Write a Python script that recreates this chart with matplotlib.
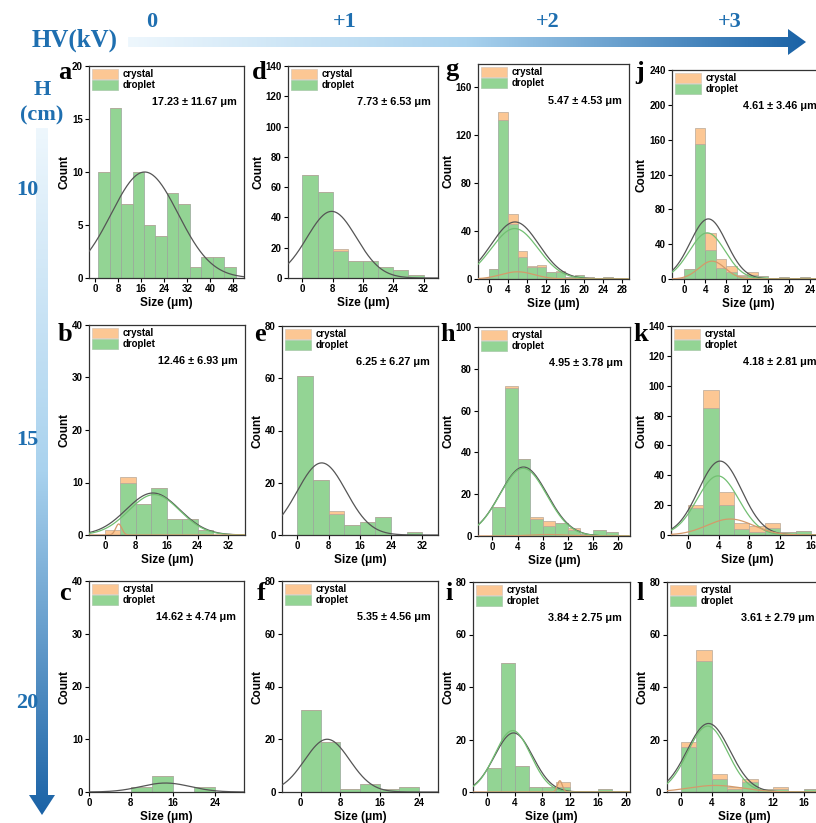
import numpy as np
import matplotlib.pyplot as plt
from matplotlib.patches import Patch, Polygon
from matplotlib.colors import LinearSegmentedColormap

plt.rcParams['font.family'] = ['Liberation Sans', 'DejaVu Sans']

##### data (bin left edges, counts, fits)
a_bins = [1, 5, 9, 13, 17, 21, 25, 29, 33, 37, 41, 45]
a_droplet = [10, 16, 7, 10, 5, 4, 8, 7, 1, 2, 2, 1]
a_crystal = [0, 0, 0, 0, 0, 0, 0, 0, 0, 0, 0, 0]
a_text = "17.23 ± 11.67 μm"
a_fits = [(17.23, 11.67, 10.0, 'total')]

b_bins = [0, 4, 8, 12, 16, 20, 24]
b_droplet = [0, 10, 6, 9, 3, 3, 1]
b_crystal = [1, 1, 0, 0, 0, 0, 0]
b_text = "12.46 ± 6.93 μm"
b_fits = [(12.46, 6.93, 8.0, 'total'), (12.8, 6.6, 7.7, 'droplet'), (3.6, 0.8, 2.1, 'crystal')]

c_bins = [8, 12, 16, 20]
c_droplet = [1, 3, 0, 1]
c_crystal = [0, 0, 0, 0]
c_text = "14.62 ± 4.74 μm"
c_fits = [(14.62, 4.74, 1.7, 'total')]

d_bins = [0, 4, 8, 12, 16, 20, 24, 28]
d_droplet = [68, 57, 18, 11, 11, 7, 5, 2]
d_crystal = [0, 0, 1, 0, 0, 0, 0, 0]
d_text = "7.73 ± 6.53 μm"
d_fits = [(7.73, 6.53, 44.0, 'total')]

e_bins = [0, 4, 8, 12, 16, 20, 24, 28]
e_droplet = [61, 21, 8, 4, 5, 7, 0, 1]
e_crystal = [0, 0, 1, 0, 0, 0, 0, 0]
e_text = "6.25 ± 6.27 μm"
e_fits = [(6.25, 6.27, 27.6, 'total')]

f_bins = [0, 4, 8, 12, 16, 20]
f_droplet = [31, 19, 1, 3, 1, 2]
f_crystal = [0, 0, 0, 0, 0, 0]
f_text = "5.35 ± 4.56 μm"
f_fits = [(5.35, 4.56, 20.0, 'total')]

g_bins = [-2, 0, 2, 4, 6, 8, 10, 12, 14, 16, 18, 20, 22, 24, 26]
g_droplet = [0, 8, 132, 46, 18, 10, 10, 6, 6, 2, 3, 2, 1, 2, 1]
g_crystal = [1, 0, 7, 8, 5, 1, 2, 0, 1, 0, 0, 0, 0, 0, 0]
g_text = "5.47 ± 4.53 μm"
g_fits = [(5.47, 5.0, 47.5, 'total'), (5.4, 4.9, 42.0, 'droplet'), (6.0, 3.5, 6.0, 'crystal')]

h_bins = [0, 2, 4, 6, 8, 10, 12, 14, 16, 18]
h_droplet = [14, 71, 37, 8, 5, 6, 3, 1, 3, 2]
h_crystal = [0, 1, 0, 1, 2, 0, 1, 0, 0, 0]
h_text = "4.95 ± 3.78 μm"
h_fits = [(4.95, 3.78, 33.0, 'total'), (4.9, 3.75, 32.4, 'droplet'), (9.0, 3.0, 0.7, 'crystal')]

i_bins = [0, 2, 4, 6, 8, 10, 12, 14, 16]
i_droplet = [9, 49, 10, 2, 2, 2, 0, 0, 1]
i_crystal = [0, 0, 0, 0, 0, 2, 0, 0, 0]
i_text = "3.84 ± 2.75 μm"
i_fits = [(3.84, 2.75, 22.5, 'total'), (3.7, 2.6, 23.4, 'droplet'), (10.5, 0.35, 4.3, 'crystal')]

j_bins = [-2, 0, 2, 4, 6, 8, 10, 12, 14, 16, 18, 20, 22]
j_droplet = [0, 11, 155, 33, 13, 8, 4, 5, 4, 1, 2, 1, 2]
j_crystal = [1, 1, 18, 20, 10, 7, 1, 3, 0, 0, 0, 0, 0]
j_text = "4.61 ± 3.46 μm"
j_fits = [(4.61, 3.46, 69.0, 'total'), (4.4, 3.4, 53.0, 'droplet'), (5.3, 2.5, 20.5, 'crystal')]

k_bins = [0, 2, 4, 6, 8, 10, 12, 14]
k_droplet = [18, 85, 20, 4, 2, 5, 2, 3]
k_crystal = [2, 12, 9, 4, 4, 3, 0, 0]
k_text = "4.18 ± 2.81 μm"
k_fits = [(4.18, 2.81, 49.5, 'total'), (3.9, 2.7, 39.6, 'droplet'), (5.5, 3.0, 10.7, 'crystal')]

l_bins = [0, 2, 4, 6, 8, 10, 12, 14, 16]
l_droplet = [17, 50, 5, 1, 4, 1, 1, 0, 1]
l_crystal = [2, 4, 2, 1, 1, 0, 1, 0, 0]
l_text = "3.61 ± 2.79 μm"
l_fits = [(3.61, 2.79, 26.1, 'total'), (3.5, 2.6, 25.1, 'droplet'), (4.5, 3.5, 2.5, 'crystal')]

hv_labels = ["0", "+1", "+2", "+3"]
h_labels = ["10", "15", "20"]

panels = {
    'a': (a_bins, 4, a_droplet, a_crystal, a_text, a_fits),
    'b': (b_bins, 4, b_droplet, b_crystal, b_text, b_fits),
    'c': (c_bins, 4, c_droplet, c_crystal, c_text, c_fits),
    'd': (d_bins, 4, d_droplet, d_crystal, d_text, d_fits),
    'e': (e_bins, 4, e_droplet, e_crystal, e_text, e_fits),
    'f': (f_bins, 4, f_droplet, f_crystal, f_text, f_fits),
    'g': (g_bins, 2, g_droplet, g_crystal, g_text, g_fits),
    'h': (h_bins, 2, h_droplet, h_crystal, h_text, h_fits),
    'i': (i_bins, 2, i_droplet, i_crystal, i_text, i_fits),
    'j': (j_bins, 2, j_droplet, j_crystal, j_text, j_fits),
    'k': (k_bins, 2, k_droplet, k_crystal, k_text, k_fits),
    'l': (l_bins, 2, l_droplet, l_crystal, l_text, l_fits),
}

##### layout in pixels: box (left, top, right, bottom), xlim, xtick step, ylim, ytick step, letter pos
W, H = 816, 823
layout = {
    'a': ((89, 66, 244, 278), (-2.2, 51.9), 8, 20, 5, (65, 79)),
    'd': ((288, 66, 438, 278), (-3.8, 35.8), 8, 140, 20, (259, 79)),
    'g': ((478, 64, 629, 279), (-2.3, 29.4), 4, 179, 40, (452, 76)),
    'j': ((672, 70, 824, 279), (-2.3, 26.6), 4, 240, 40, (640, 79)),
    'b': ((89, 325, 245, 535), (-4.1, 36.3), 8, 40, 10, (65, 341)),
    'e': ((282, 326, 438, 535), (-3.9, 36.0), 8, 80, 20, (260, 341)),
    'h': ((478, 327, 630, 536), (-2.3, 21.9), 4, 100, 20, (448, 341)),
    'k': ((671, 326, 824, 535), (-2.2, 17.7), 4, 140, 20, (641, 341)),
    'c': ((89, 581, 244, 792), (0, 29.6), 8, 40, 10, (65, 600)),
    'f': ((282, 581, 438, 792), (-3.8, 27.8), 8, 80, 20, (261, 600)),
    'i': ((473, 582, 630, 792), (-2.0, 20.6), 4, 80, 20, (449, 600)),
    'l': ((667, 582, 822, 792), (-1.8, 18.4), 4, 80, 20, (640, 600)),
}

green = '#93d494'
orange = '#fcc794'
curve_colors = {'total': '#555555', 'droplet': '#72bf72', 'crystal': '#d49a6a'}
blue = '#1f6fb0'

fig = plt.figure(figsize=(W / 100, H / 100), dpi=100)

#####gradient arrows drawn on a full-figure overlay
ov = fig.add_axes([0, 0, 1, 1])
ov.set_xlim(0, W)
ov.set_ylim(H, 0)
ov.axis('off')
cmap = LinearSegmentedColormap.from_list('arrow', ['#eef7fd', '#a9d2ee', '#1a62a6'])

harrow = Polygon([(128, 37), (788, 37), (788, 29), (806, 42), (788, 55), (788, 47), (128, 47)],
                 closed=True, facecolor='none', edgecolor='none')
ov.add_patch(harrow)
im = ov.imshow(np.linspace(0, 1, 256).reshape(1, -1), extent=(128, 806, 56, 28),
               cmap=cmap, aspect='auto')
im.set_clip_path(harrow)

varrow = Polygon([(36, 128), (36, 795), (29, 795), (42, 815), (55, 795), (48, 795), (48, 128)],
                 closed=True, facecolor='none', edgecolor='none')
ov.add_patch(varrow)
im2 = ov.imshow(np.linspace(0, 1, 256).reshape(-1, 1), extent=(28, 56, 816, 128),
                cmap=cmap, aspect='auto', origin='upper')
im2.set_clip_path(varrow)
ov.set_xlim(0, W)
ov.set_ylim(H, 0)

serif = dict(family='Liberation Serif', weight='bold', color=blue)
fig.text(75 / W, 1 - 40 / H, "HV(kV)", fontsize=18, ha='center', va='center', **serif)
for lab, xp in zip(hv_labels, [152, 345, 548, 730]):
    fig.text(xp / W, 1 - 22 / H, lab, fontsize=16, ha='center', va='center', **serif)
fig.text(42 / W, 1 - 90 / H, "H", fontsize=16, ha='center', va='center', **serif)
fig.text(42 / W, 1 - 115 / H, "(cm)", fontsize=16, ha='center', va='center', **serif)
for lab, yp in zip(h_labels, [190, 440, 703]):
    fig.text(27 / W, 1 - yp / H, lab, fontsize=16, ha='center', va='center', **serif)

#####the twelve histograms
for key, (bins, width, droplet, crystal, text, fits) in panels.items():
    (l, t, r, b), xlim, xstep, ytop, ystep, (lx, ly) = layout[key]
    ax = fig.add_axes([l / W, 1 - b / H, (r - l) / W, (b - t) / H])

    ax.bar(bins, droplet, width=width, align='edge', color=green,
           edgecolor='#9aa59a', linewidth=0.5, zorder=2)
    ax.bar(bins, crystal, width=width, bottom=droplet, align='edge', color=orange,
           edgecolor='#b8a898', linewidth=0.5, zorder=2)

    xs = np.linspace(xlim[0], xlim[1], 300)
    for mu, sd, peak, kind in fits:
        ax.plot(xs, peak * np.exp(-0.5 * ((xs - mu) / sd) ** 2),
                color=curve_colors[kind], lw=0.9, zorder=3)

    ax.set_xlim(*xlim)
    ax.set_ylim(0, ytop)
    ax.set_xticks(np.arange(0, xlim[1], xstep))
    ax.set_yticks(np.arange(0, ytop + 1, ystep))
    ax.tick_params(direction='out', length=3, width=0.8, labelsize=7, pad=1.5)
    for lab in ax.get_xticklabels() + ax.get_yticklabels():
        lab.set_fontweight('bold')
    for sp in ax.spines.values():
        sp.set_linewidth(0.9)
        sp.set_color('#333333')
    ax.set_xlabel("Size (μm)", fontsize=8.5, fontweight='bold', labelpad=2)
    ax.set_ylabel("Count", fontsize=8.5, fontweight='bold', labelpad=1)

    handles = [Patch(facecolor=orange, edgecolor='#d8c8b8', lw=0.5),
               Patch(facecolor=green, edgecolor='#a8c8a8', lw=0.5)]
    ax.legend(handles, ["crystal", "droplet"], loc='upper left', frameon=False,
              prop=dict(size=7, weight='bold'), handlelength=2.6, handleheight=1.1,
              borderaxespad=0.15, labelspacing=0.1, handletextpad=0.5, borderpad=0.2)
    ax.text(0.95, 0.83, text, transform=ax.transAxes, ha='right', va='center',
            fontsize=7.8, fontweight='bold')

    fig.text(lx / W, 1 - ly / H, key, fontsize=19, family='Liberation Serif',
             weight='bold', ha='center', va='baseline')

fig.savefig("out.png", dpi=100)
